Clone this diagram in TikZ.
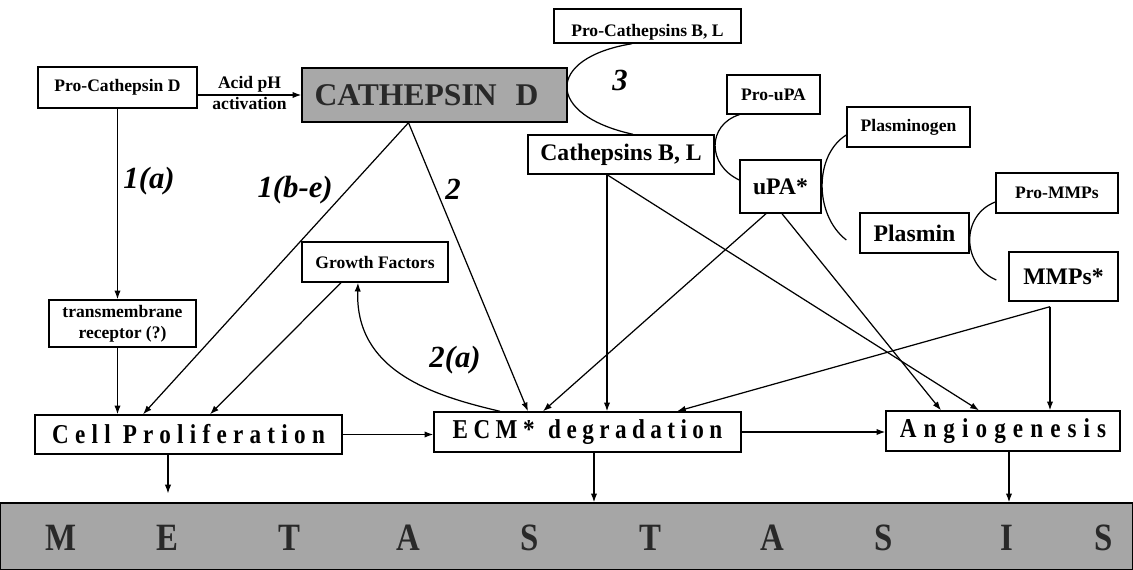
\documentclass[tikz,border=0pt]{standalone}
\usepackage{fontspec}
\setmainfont{Liberation Serif}
\newfontfamily\widefont{Liberation Serif}[FakeStretch=0.85,LetterSpace=20]
\newfontfamily\barfont{Liberation Serif}[FakeStretch=0.85]
\usepackage{tikz}
\usetikzlibrary{arrows.meta,calc}
\definecolor{cdgray}{gray}{0.66}
\definecolor{bargray}{gray}{0.65}
\definecolor{darktext}{gray}{0.16}

\begin{document}
\begin{tikzpicture}
	[
	 x = 0.02cm,
	 y = -0.02cm,
	 line width = 0.7pt,
	 >={Latex[length=5pt,width=3.6pt]},
	 every node/.style = {shape=rectangle,
		                  draw,
		                  align=center,
		                  line width = 0.8pt,
	                      font=\fontsize{10}{12}\selectfont\bfseries,
	                      inner sep = 0pt
                         },
    MID/.style = {font=\fontsize{13.5}{16}\selectfont\bfseries},
    BIG/.style = {fill=cdgray, text=darktext,
    	font=\fontsize{18}{20}\selectfont\bfseries},
    STAGE/.style = {minimum width=6.14cm, minimum height=0.8cm,
    	font=\widefont\fontsize{15.5}{18}\selectfont\bfseries},
    num/.style = {draw=none, inner sep=2pt,
    	font=\fontsize{17.5}{20}\selectfont\bfseries\itshape},
    LTR/.style = {draw=none, anchor=base, text=darktext,
    	font=\barfont\fontsize{22}{24}\selectfont\bfseries}
	]
	
	\useasboundingbox (0,0) rectangle (1133,570);
	
	\newcommand{\TMR}{transmembrane\\receptor (?)}
	\newcommand{\ECMtxt}{ECM*\enspace degradation}
	
	% upper boxes
	\node [minimum width=3.18cm, minimum height=0.82cm] (PCD) at (117.5,87.5) {Pro-Cathepsin D};
	\node [BIG, minimum width=5.3cm, minimum height=1.08cm] (CD) at (434.5,95) {CATHEPSIN\hspace{0.6em}D\hspace{0.32cm}};
	\node [minimum width=3.74cm, minimum height=0.68cm, text height=11.5pt, text depth=0pt] (PCBL) at (647.5,26) {Pro-Cathepsins B, L};
	\node [MID, minimum width=3.72cm, minimum height=0.78cm] (CBL) at (621,154.5) {Cathepsins B, L};
	\node [minimum width=1.86cm, minimum height=0.78cm] (PuPA) at (773.5,94.5) {Pro-uPA};
	\node [MID, minimum width=1.62cm, minimum height=1.06cm] (uPA) at (780.5,186.5) {uPA*};
	\node [minimum width=2.46cm, minimum height=0.8cm] (PG) at (908.5,127) {Plasminogen};
	\node [MID, minimum width=2.18cm, minimum height=0.8cm] (PL) at (914.5,233) {Plasmin};
	\node [minimum width=2.44cm, minimum height=0.8cm] (PMMP) at (1057,193) {Pro-MMPs};
	\node [MID, minimum width=2.18cm, minimum height=0.98cm] (MMP) at (1063.5,276.5) {MMPs*};
	\node [minimum width=2.94cm, minimum height=0.94cm] (TR) at (122.5,323.5) {\TMR};
	\node [minimum width=2.92cm, minimum height=0.8cm] (GF) at (375,262) {Growth Factors};
	
	% lower boxes
	\node [STAGE, minimum height=0.78cm] (CP) at (188.5,434.5) {\addfontfeature{LetterSpace=23}Cell Proliferation};
	\node [STAGE] (ECM) at (587.5,432) {\ECMtxt};
	\node [STAGE, minimum width=4.68cm] (AG) at (1003,431) {\addfontfeature{LetterSpace=26}Angiogenesis};
	\node [fill=bargray, minimum width=22.66cm, minimum height=1.34cm] (MET) at (566.5,536.5) {};
	
	\node [LTR] (M1)  at (61,551)   {M};
	\node [LTR] (M2)  at (167,551)  {E};
	\node [LTR] (M3)  at (289,551)  {T};
	\node [LTR] (M4)  at (408,551)  {A};
	\node [LTR] (M5)  at (530,551)  {S};
	\node [LTR] (M6)  at (650,551)  {T};
	\node [LTR] (M7)  at (772,551)  {A};
	\node [LTR] (M8)  at (884,551)  {S};
	\node [LTR] (M9)  at (1007,551) {I};
	\node [LTR] (M10) at (1104,551) {S};
	
	% activation curves
	\draw ($(PCBL.south)+(-15.5,0)$) .. controls (545,58) and (545,115) .. ($(CBL.north)+(12,0)$);
	\draw ($(PuPA.south west)+(13,0)$) .. controls (707,125) and (707,165) .. ($(uPA.west)+(0,-6.5)$);
	\draw ($(PG.west)+(0,8)$) .. controls (814,155) and (814,215) .. ($(PL.west)+(-13,7)$);
	\draw ($(PMMP.west)+(0,9)$) .. controls (961,215) and (961,265) .. ($(MMP.west)+(-12,3.5)$);
	
	% arrows
	\coordinate (cdb) at ($(CD.south)+(-26,0)$);
	\coordinate (cbl) at ($(CBL.south)+(-14,0)$);
	\coordinate (mmb) at ($(MMP.south)+(-13.5,5)$);
	\coordinate (cpb) at ($(CP.south)+(-20.5,0)$);
	\coordinate (ecb) at ($(ECM.south)+(6.5,0)$);
	\coordinate (agb) at ($(AG.south)+(6,0)$);
	
	\draw [->] (PCD.east |- CD.west) -- (CD.west);
	\draw [->] (PCD.south) -- (PCD.south |- TR.north);
	\draw [->] (TR.south -| PCD.south) -- (PCD.south |- CP.north);
	\draw [->] (cdb) -- ($(CP.north)+(-45.5,0)$);
	\draw [->] (cdb) -- ($(ECM.north)+(-59.5,0)$);
	\draw [->] ($(GF.south)+(-34,0)$) -- ($(CP.north)+(21.5,0)$);
	\draw [->] ($(ECM.north)+(-87.5,0)$) .. controls (430,395) and (355,370) .. ($(GF.south)+(-17,0)$);
	\draw [->] (cbl) -- (cbl |- ECM.north);
	\draw [->] (cbl) -- ($(AG.north)+(-24,0)$);
	\draw [->] ($(uPA.south)+(-14.5,0)$) -- ($(ECM.north)+(-44.5,0)$);
	\draw [->] ($(uPA.south)+(1.5,0)$) -- ($(AG.north)+(-62,0)$);
	\draw [->] (mmb) -- (mmb |- AG.north);
	\draw [->] (mmb) -- ($(ECM.north)+(89.5,0)$);
	\draw [->] (CP.east) -- (CP.east -| ECM.west);
	\draw [->] (ECM.east) -- (ECM.east -| AG.west);
	\draw [->, shorten >=5pt] (cpb) -- (cpb |- MET.north);
	\draw [->] (ecb) -- (ecb |- MET.north);
	\draw [->] (agb) -- (agb |- MET.north);
	
	\begin{scope}[nodes = {draw = none}]
	  \path (PCD.east |- CD.west) -- (CD.west) node [above=1pt, midway] (acid) {Acid pH}
	                                          node [below=1pt, midway] (actv) {activation};
	  \path (PCD.south) -- (PCD.south |- TR.north) node [num, right=1pt, pos=.38] (n1a) {1(a)};
	  \path (cdb) -- ($(CP.north)+(-45.5,0)$) node [num, left=6pt, pos=.23] (n1b) {1(b-e)};
	  \path (cdb) -- ($(ECM.north)+(-59.5,0)$) node [num, right=3pt, pos=.23] (n2) {2};
	  \node [num] (n2a) at (455,360) {2(a)};
	  \node [num] (n3) at (620,80) {3};
	\end{scope}
\end{tikzpicture}
\end{document}
